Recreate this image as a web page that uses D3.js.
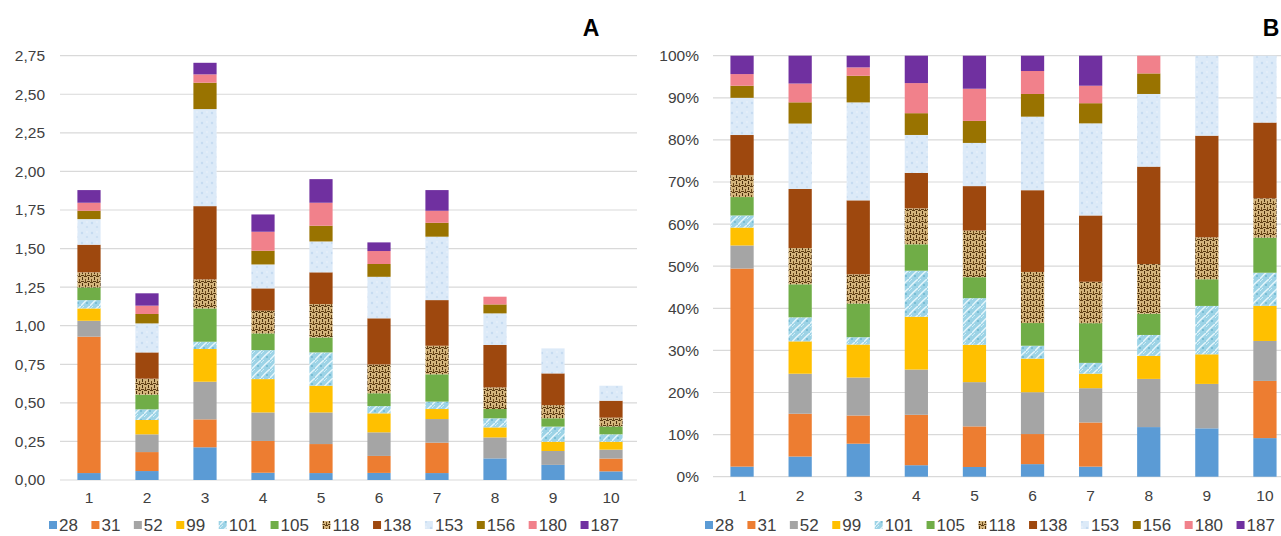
<!DOCTYPE html>
<html>
<head>
<meta charset="utf-8">
<script src="https://cdn.jsdelivr.net/npm/d3@7"></script>
<style>
  html, body { margin: 0; padding: 0; background: #ffffff; }
  svg { display: block; font-family: "Liberation Sans", Arial, sans-serif; }
</style>
</head>
<body>
<svg id="chart" width="1281" height="536"></svg>
<script>
// ---------- data ----------
const categories = ["1", "2", "3", "4", "5", "6", "7", "8", "9", "10"];
const seriesKeys = ["28", "31", "52", "99", "101", "105", "118", "138", "153", "156", "180", "187"];

const s28  = [0.045, 0.058, 0.212, 0.047, 0.045, 0.046, 0.045, 0.140, 0.098, 0.056];
const s31  = [0.884, 0.123, 0.181, 0.206, 0.188, 0.110, 0.197, 0.000, 0.000, 0.083];
const s52  = [0.103, 0.115, 0.244, 0.185, 0.205, 0.153, 0.153, 0.136, 0.090, 0.058];
const s99  = [0.080, 0.093, 0.212, 0.216, 0.173, 0.123, 0.065, 0.065, 0.060, 0.051];
const s101 = [0.054, 0.069, 0.047, 0.188, 0.216, 0.047, 0.048, 0.059, 0.098, 0.048];
const s105 = [0.082, 0.095, 0.216, 0.108, 0.097, 0.083, 0.177, 0.060, 0.054, 0.051];
const s118 = [0.098, 0.104, 0.188, 0.147, 0.216, 0.187, 0.185, 0.140, 0.085, 0.057];
const s138 = [0.179, 0.170, 0.475, 0.145, 0.206, 0.299, 0.296, 0.275, 0.206, 0.110];
const s153 = [0.166, 0.188, 0.629, 0.155, 0.200, 0.269, 0.411, 0.205, 0.162, 0.097];
const s156 = [0.054, 0.061, 0.171, 0.089, 0.102, 0.083, 0.090, 0.058, 0.000, 0.000];
const s180 = [0.052, 0.054, 0.054, 0.123, 0.149, 0.084, 0.078, 0.050, 0.000, 0.000];
const s187 = [0.082, 0.080, 0.075, 0.112, 0.153, 0.056, 0.134, 0.000, 0.000, 0.000];

const seriesValues = [s28, s31, s52, s99, s101, s105, s118, s138, s153, s156, s180, s187];

const ticksA = [0, 0.25, 0.5, 0.75, 1, 1.25, 1.5, 1.75, 2, 2.25, 2.5, 2.75];
const ticksB = [0, 0.1, 0.2, 0.3, 0.4, 0.5, 0.6, 0.7, 0.8, 0.9, 1.0];
const panelTitles = ["A", "B"];

// ---------- styles ----------
const fills = {
  "28": "#5B9BD5", "31": "#ED7D31", "52": "#A5A5A5", "99": "#FFC000",
  "101": "url(#p101)", "105": "#70AD47", "118": "url(#p118)", "138": "#9E480E",
  "153": "url(#p153)", "156": "#997300", "180": "#F1818B", "187": "#7030A0"
};

const svg = d3.select("#chart");
const defs = svg.append("defs");

// pattern for 101 : light cyan water texture
const p101 = defs.append("pattern").attr("id", "p101").attr("patternUnits", "userSpaceOnUse")
  .attr("width", 9).attr("height", 9);
p101.append("rect").attr("width", 9).attr("height", 9).attr("fill", "#9CD3E6");
p101.append("path").attr("d", "M0,9 Q3,5 9,0").attr("stroke", "#E4F5FB").attr("stroke-width", 1.4).attr("fill", "none");
p101.append("path").attr("d", "M-1,4 Q1,2 4,-1").attr("stroke", "#D2EEF7").attr("stroke-width", 1).attr("fill", "none");
p101.append("circle").attr("cx", 6).attr("cy", 6).attr("r", 1).attr("fill", "#6FB7D0");

// pattern for 118 : burlap weave
const p118 = defs.append("pattern").attr("id", "p118").attr("patternUnits", "userSpaceOnUse")
  .attr("width", 6).attr("height", 6);
p118.append("rect").attr("width", 6).attr("height", 6).attr("fill", "#D3B47C");
p118.append("rect").attr("x", 0).attr("y", 0).attr("width", 3).attr("height", 1).attr("fill", "#5A3A12");
p118.append("rect").attr("x", 4).attr("y", 1).attr("width", 1).attr("height", 3).attr("fill", "#4A2E0C");
p118.append("rect").attr("x", 1).attr("y", 3).attr("width", 1).attr("height", 3).attr("fill", "#6B4717");
p118.append("rect").attr("x", 3).attr("y", 5).attr("width", 3).attr("height", 1).attr("fill", "#5A3A12");

// pattern for 153 : pale blue paper texture
const p153 = defs.append("pattern").attr("id", "p153").attr("patternUnits", "userSpaceOnUse")
  .attr("width", 10).attr("height", 10);
p153.append("rect").attr("width", 10).attr("height", 10).attr("fill", "#DCEAF8");
p153.append("circle").attr("cx", 2).attr("cy", 3).attr("r", 1.2).attr("fill", "#C6DBF1");
p153.append("circle").attr("cx", 7).attr("cy", 7).attr("r", 1.1).attr("fill", "#CADEF2");
p153.append("circle").attr("cx", 7).attr("cy", 2).attr("r", 0.8).attr("fill", "#EEF5FC");

const rows = categories.map((c, i) => {
  const r = { cat: c };
  seriesKeys.forEach((k, j) => { r[k] = seriesValues[j][i]; });
  return r;
});

const commaLocale = d3.formatLocale({ decimal: ",", thousands: ".", grouping: [3], currency: ["", ""] });
const fmtA = commaLocale.format(".2f");
const fmtB = d3.format(".0%");

const panels = [
  { x0: 60, x1: 640, gridEnd: 637, yTop: 55.7, yBot: 480, ticks: ticksA, fmt: fmtA, labelX: 45,
    offset: d3.stackOffsetNone, domain: [0, 2.75], title: panelTitles[0], titleX: 591, xLabY: 498, legendX: 49 },
  { x0: 713, x1: 1294, gridEnd: 1281, yTop: 55.7, yBot: 476.7, ticks: ticksB, fmt: fmtB, labelX: 699,
    offset: d3.stackOffsetExpand, domain: [0, 1], title: panelTitles[1], titleX: 1271, xLabY: 496, legendX: 705 }
];

panels.forEach(p => {
  const g = svg.append("g");
  const x = d3.scaleBand().domain(categories).range([p.x0, p.x1]).paddingInner(0.6).paddingOuter(0.3);
  const y = d3.scaleLinear().domain(p.domain).range([p.yBot, p.yTop]);

  // gridlines
  g.append("g").selectAll("line").data(p.ticks).join("line")
    .attr("x1", p.x0).attr("x2", p.gridEnd)
    .attr("y1", d => y(d)).attr("y2", d => y(d))
    .attr("stroke", "#D9D9D9").attr("stroke-width", 1.2);

  // y axis labels
  const yAxis = d3.axisLeft(y).tickValues(p.ticks).tickFormat(p.fmt).tickSize(0).tickPadding(0);
  const ya = g.append("g").attr("transform", `translate(${p.labelX},0)`).call(yAxis);
  ya.select(".domain").remove();
  ya.selectAll("text").attr("font-size", 15.5).attr("fill", "#404040")
    .attr("font-family", "'Liberation Sans', Arial, sans-serif");

  // stacked bars
  const stack = d3.stack().keys(seriesKeys).offset(p.offset);
  const series = stack(rows);
  g.append("g").selectAll("g").data(series).join("g")
    .attr("fill", s => fills[s.key])
    .selectAll("rect").data(s => s).join("rect")
    .attr("x", d => x(d.data.cat))
    .attr("width", x.bandwidth())
    .attr("y", d => y(d[1]))
    .attr("height", d => Math.max(0, y(d[0]) - y(d[1])));

  // x axis labels
  const xAxis = d3.axisBottom(x).tickSize(0).tickPadding(0);
  const xa = g.append("g").attr("transform", `translate(0,${p.xLabY - 6})`).call(xAxis);
  xa.select(".domain").remove();
  xa.selectAll("text").attr("font-size", 15.5).attr("fill", "#404040").attr("dy", "0.71em")
    .attr("font-family", "'Liberation Sans', Arial, sans-serif");

  // title
  g.append("text").attr("x", p.titleX).attr("y", 36).attr("text-anchor", "middle")
    .attr("font-size", 23).attr("font-weight", "bold").attr("fill", "#000").text(p.title);

  // legend
  const lg = g.append("g").attr("transform", `translate(${p.legendX},525)`);
  let cx = 0;
  seriesKeys.forEach(k => {
    lg.append("rect").attr("x", cx).attr("y", -4).attr("width", 8).attr("height", 8).attr("fill", fills[k]);
    const t = lg.append("text").attr("x", cx + 10).attr("y", 6)
      .attr("font-size", 17).attr("fill", "#404040").text(k);
    const w = t.node().getComputedTextLength();
    cx += 10 + w + 13.5;
  });
});
</script>
</body>
</html>
